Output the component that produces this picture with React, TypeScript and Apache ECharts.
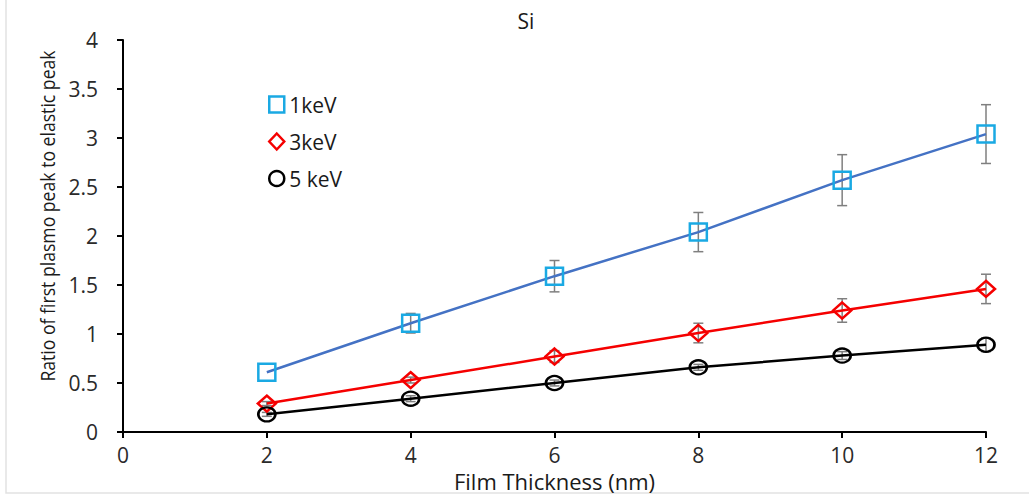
import React, { useEffect, useRef } from "react";
import * as echarts from "echarts";

// Film thickness (nm)
const thickness = [2, 4, 6, 8, 10, 12];

// Ratio of first plasmon peak to elastic peak, per primary energy
const ratio1keV = [0.61, 1.11, 1.59, 2.04, 2.57, 3.04];
const ratio3keV = [0.29, 0.53, 0.77, 1.01, 1.24, 1.46];
const ratio5keV = [0.18, 0.34, 0.5, 0.66, 0.78, 0.89];

// Error bar half-widths
const err1keV = [0, 0.1, 0.16, 0.2, 0.26, 0.3];
const err3keV = [0.02, 0.03, 0.06, 0.1, 0.12, 0.15];
const err5keV = [0.02, 0.03, 0.03, 0.03, 0.04, 0.07];

const yTicks = [0, 0.5, 1, 1.5, 2, 2.5, 3, 3.5, 4];
const xTicks = [0, 2, 4, 6, 8, 10, 12];

const FONT = "'Open Sans', 'DejaVu Sans', sans-serif";

const BLUE = "#1aa9e3";
const RED = "#f50000";
const BLACK = "#000000";
const TEXT = "#1a1a1a";

const pairs = (ys: number[]) => thickness.map((x, i) => [x, ys[i]]);
const errTriples = (ys: number[], es: number[]) =>
  thickness.map((x, i) => [x, ys[i], es[i]]);

const errorSeries = (name: string, ys: number[], es: number[]) => ({
  type: "custom",
  name: name + "-err",
  z: 1,
  silent: true,
  data: errTriples(ys, es),
  renderItem: (params: any, api: any) => {
    const x = api.value(0);
    const y = api.value(1);
    const e = api.value(2);
    if (!e) return null;
    const top = api.coord([x, y + e]);
    const bot = api.coord([x, y - e]);
    const cap = 5;
    const style = { stroke: "#7f7f7f", lineWidth: 1.5 };
    return {
      type: "group",
      children: [
        { type: "line", shape: { x1: top[0], y1: top[1], x2: bot[0], y2: bot[1] }, style },
        { type: "line", shape: { x1: top[0] - cap, y1: top[1], x2: top[0] + cap, y2: top[1] }, style },
        { type: "line", shape: { x1: bot[0] - cap, y1: bot[1], x2: bot[0] + cap, y2: bot[1] }, style },
      ],
    };
  },
});

const hollow = (c: string) => ({ color: "rgba(255,255,255,0)", borderColor: c, borderWidth: 2.5 });

export default function App() {
  const ref = useRef<HTMLDivElement>(null);

  useEffect(() => {
    if (!ref.current) return;
    const chart = echarts.init(ref.current, null, { renderer: "svg" });
    chart.setOption({
      animation: false,
      backgroundColor: "#ffffff",
      title: {
        text: "Si",
        left: 521,
        top: 5,
        textAlign: "center",
        textStyle: { fontFamily: FONT, fontSize: 21, fontWeight: "normal", color: TEXT },
      },
      legend: {
        orient: "vertical",
        left: 263,
        top: 86,
        itemGap: 10,
        itemWidth: 15,
        itemHeight: 16,
        data: [
          { name: "1keV", icon: "rect", itemStyle: hollow(BLUE) },
          { name: "3keV", icon: "diamond", itemStyle: hollow(RED) },
          { name: "5 keV", icon: "circle", itemStyle: hollow(BLACK) },
        ],
        textStyle: { fontFamily: FONT, fontSize: 21, lineHeight: 27, color: TEXT, padding: [0, 0, 0, 0] },
      },
      grid: { left: 123, right: 43, top: 40, bottom: 65, containLabel: false },
      xAxis: {
        type: "value",
        min: 0,
        max: 12,
        interval: 2,
        name: "Film Thickness (nm)",
        nameLocation: "middle",
        nameGap: 36,
        nameTextStyle: { fontFamily: FONT, fontSize: 22, color: TEXT },
        axisLine: { show: true, onZero: false, lineStyle: { color: "#000", width: 2 } },
        axisTick: { show: true, length: 6, lineStyle: { color: "#000", width: 2 } },
        axisLabel: {
          fontFamily: FONT,
          fontSize: 21,
          color: "#2a2a2a",
          margin: 12,
          formatter: (v: number) => (xTicks.includes(v) ? String(v) : ""),
        },
        splitLine: { show: false },
      },
      yAxis: {
        type: "value",
        min: 0,
        max: 4,
        interval: 0.5,
        axisLine: { show: true, lineStyle: { color: "#000", width: 2 } },
        axisTick: { show: true, length: 6, lineStyle: { color: "#000", width: 2 } },
        axisLabel: {
          fontFamily: FONT,
          fontSize: 21,
          color: "#2a2a2a",
          margin: 25,
          formatter: (v: number) => (yTicks.includes(v) ? String(v) : ""),
        },
        splitLine: { show: false },
      },
      graphic: [
        {
          type: "text",
          x: 47,
          y: 216,
          rotation: Math.PI / 2,
          scaleX: 0.86,
          style: {
            text: "Ratio of first plasmo peak to elastic peak",
            fontFamily: FONT,
            fontSize: 20.5,
            fill: TEXT,
            align: "center",
            verticalAlign: "middle",
          },
        },
        {
          type: "polyline",
          shape: { points: [[6, 0], [6, 493], [1029, 493]] },
          style: { stroke: "#e2e2e2", lineWidth: 1.5, fill: "none" },
          silent: true,
        },
      ],
      series: [
        errorSeries("1keV", ratio1keV, err1keV),
        errorSeries("3keV", ratio3keV, err3keV),
        errorSeries("5 keV", ratio5keV, err5keV),
        {
          type: "line",
          name: "1keV",
          z: 3,
          data: pairs(ratio1keV),
          symbol: "rect",
          symbolSize: 17,
          lineStyle: { color: "#4472c4", width: 2.5 },
          itemStyle: hollow(BLUE),
        },
        {
          type: "line",
          name: "3keV",
          z: 3,
          data: pairs(ratio3keV),
          symbol: "diamond",
          symbolSize: [18, 16],
          lineStyle: { color: RED, width: 2.5 },
          itemStyle: hollow(RED),
        },
        {
          type: "line",
          name: "5 keV",
          z: 3,
          data: pairs(ratio5keV),
          symbol: "circle",
          symbolSize: [17, 14],
          lineStyle: { color: BLACK, width: 2.5 },
          itemStyle: hollow(BLACK),
        },
      ],
    });
    return () => chart.dispose();
  }, []);

  return <div ref={ref} style={{ width: 1029, height: 497, position: "absolute", left: 0, top: 0 }} />;
}
